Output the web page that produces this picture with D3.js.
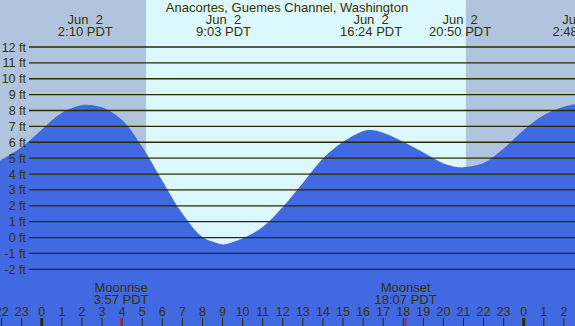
<!DOCTYPE html>
<html><head><meta charset="utf-8">
<script src="https://cdn.jsdelivr.net/npm/d3@7"></script>
<style>
html,body{margin:0;padding:0;overflow:hidden;background:#fff;}
text{font-family:"Liberation Sans",Arial,sans-serif;fill:#333300;white-space:pre;}
</style></head><body>
<svg id="c" width="575" height="326"></svg>
<script>
const title = "Anacortes, Guemes Channel, Washington";
// hours relative to Jun 2 00:00 PDT, heights in ft
const tideHours   = [-2.1, -1, 0, 1, 2, 2.17, 3, 4, 5, 6, 7, 8, 9, 9.05, 10, 11, 12, 13, 14, 15, 16, 16.4, 17, 18, 19, 20, 20.83, 21, 22, 23, 24, 25, 26, 26.6];
const tideHeights = [4.83, 5.7, 6.81, 7.86, 8.34, 8.37, 8.2, 7.4, 5.7, 3.58, 1.51, 0.04, -0.43, -0.44, -0.06, 0.67, 1.93, 3.44, 4.98, 6.03, 6.7, 6.77, 6.6, 6.03, 5.35, 4.67, 4.42, 4.43, 4.7, 5.61, 6.77, 7.71, 8.24, 8.4];
const extremeHours  = [2.167, 9.05, 16.4, 20.833, 26.8];
const extremeLabels = ["2:10 PDT", "9:03 PDT", "16:24 PDT", "20:50 PDT", "2:48 PDT"];
const extremeDates  = ["Jun  2", "Jun  2", "Jun  2", "Jun  2", "Jun  3"];
const yTicks = [-2, -1, 0, 1, 2, 3, 4, 5, 6, 7, 8, 9, 10, 11, 12];
const hourTicks = d3.range(-2, 27);
const sunrise = 5.19, sunset = 21.12;
const moonEvents = [{name: "Moonrise", label: "3:57 PDT", h: 3.95}, {name: "Moonset", label: "18:07 PDT", h: 18.117}];

const W = 575, H = 326;
const svg = d3.select("#c");
const x = d3.scaleLinear().domain([0, 24]).range([41.8, 41.8 + 24 * 20.08]);
const y = d3.scaleLinear().domain([-2, 12]).range([269.3, 47]);

// backgrounds
svg.append("rect").attr("x", 0).attr("y", 0).attr("width", W).attr("height", H).attr("fill", "#b0c4de");
svg.append("rect").attr("x", x(sunrise)).attr("y", 0).attr("width", x(sunset) - x(sunrise)).attr("height", H).attr("fill", "#ddf7fe");

// tide area
const pts = tideHours.map((h, i) => [h, tideHeights[i]]);
const area = d3.area().x(d => x(d[0])).y0(H).y1(d => y(d[1])).curve(d3.curveCatmullRom.alpha(0.5));
svg.append("path").datum(pts).attr("d", area).attr("fill", "#4169e1");

// grid lines
svg.selectAll("line.g").data(yTicks).enter().append("line")
  .attr("x1", 29).attr("x2", W).attr("y1", d => y(d)).attr("y2", d => y(d))
  .attr("stroke", "#2b2b00").attr("stroke-width", 1.3);
svg.selectAll("text.yl").data(yTicks).enter().append("text")
  .attr("x", 26).attr("y", d => y(d)).attr("dy", "0.36em").attr("text-anchor", "end")
  .attr("font-size", 12.5).text(d => d + " ft");

// title
svg.append("text").attr("x", 287).attr("y", 12).attr("text-anchor", "middle").attr("font-size", 13).text(title);

// extremes labels
extremeHours.forEach((h, i) => {
  svg.append("text").attr("x", x(h)).attr("y", 24).attr("text-anchor", "middle").attr("font-size", 13).text(extremeDates[i]);
  svg.append("text").attr("x", x(h)).attr("y", 36).attr("text-anchor", "middle").attr("font-size", 13).text(extremeLabels[i]);
});

// hour ticks
svg.selectAll("line.t").data(hourTicks).enter().append("line")
  .attr("x1", d => x(d)).attr("x2", d => x(d)).attr("y1", 318).attr("y2", H)
  .attr("stroke", "#2b2b00").attr("stroke-width", d => ((d % 24) + 24) % 24 === 0 ? 3 : 1);
svg.selectAll("text.h").data(hourTicks).enter().append("text")
  .attr("x", d => x(d)).attr("y", 316).attr("text-anchor", "middle").attr("font-size", 12.5)
  .text(d => ((d % 24) + 24) % 24);

// moon events
moonEvents.forEach(m => {
  svg.append("line").attr("x1", x(m.h)).attr("x2", x(m.h)).attr("y1", 318).attr("y2", H).attr("stroke", "#ff0000").attr("stroke-width", 1.5);
  svg.append("text").attr("x", x(m.h)).attr("y", 292).attr("text-anchor", "middle").attr("font-size", 13).text(m.name);
  svg.append("text").attr("x", x(m.h)).attr("y", 304).attr("text-anchor", "middle").attr("font-size", 13).text(m.label);
});
</script></body></html>
